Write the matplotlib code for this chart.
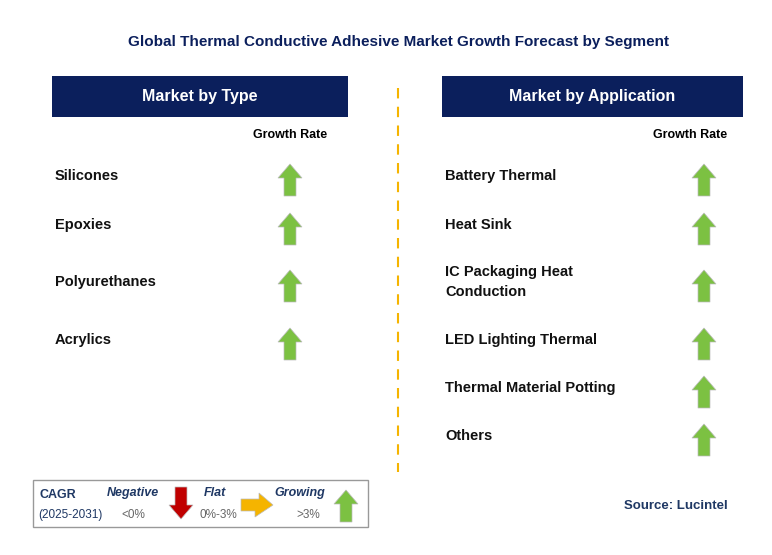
import matplotlib
matplotlib.use('Agg')
import matplotlib.pyplot as plt
from matplotlib.patches import Rectangle, Polygon

plt.rcParams['font.family'] = 'Liberation Sans'

title = "Global Thermal Conductive Adhesive Market Growth Forecast by Segment"
type_labels = ["Silicones", "Epoxies", "Polyurethanes", "Acrylics"]
type_y = [176, 225, 282, 340]
type_trend = ["up", "up", "up", "up"]
app_labels = ["Battery Thermal", "Heat Sink", "IC Packaging Heat\nConduction",
              "LED Lighting Thermal", "Thermal Material Potting", "Others"]
app_y = [176, 225, 282, 340, 388, 436]
app_trend = ["up", "up", "up", "up", "up", "up"]

NAVY = '#0b1f5c'
GREEN = '#7cc142'
RED = '#c00000'
ORANGE = '#f5b400'

fig = plt.figure(figsize=(7.72, 5.55), dpi=100)
ax = fig.add_axes([0, 0, 1, 1])
ax.set_xlim(0, 772)
ax.set_ylim(555, 0)
ax.axis('off')


def arrow(cx, cy, direction, color, size=1.0):
    hw, sw, h = 12 * size, 6 * size, 16 * size
    if direction == "up":
        pts = [(cx, cy - h), (cx + hw, cy - 2 * size), (cx + sw, cy - 2 * size), (cx + sw, cy + h),
               (cx - sw, cy + h), (cx - sw, cy - 2 * size), (cx - hw, cy - 2 * size)]
    elif direction == "down":
        pts = [(cx, cy + h), (cx + hw, cy + 2 * size), (cx + sw, cy + 2 * size), (cx + sw, cy - h),
               (cx - sw, cy - h), (cx - sw, cy + 2 * size), (cx - hw, cy + 2 * size)]
    else:
        pts = [(cx + h, cy), (cx + 2 * size, cy - hw), (cx + 2 * size, cy - sw), (cx - h, cy - sw),
               (cx - h, cy + sw), (cx - 2 * size, cy + sw), (cx - 2 * size, cy + hw)]
    ax.add_patch(Polygon(pts, closed=True, facecolor=color, edgecolor='#bbbbbb', lw=0.5))


ax.text(398, 42, title, ha='center', va='center', fontsize=11, fontweight='bold', color=NAVY)

for x0, x1, label in [(52, 348, "Market by Type"), (442, 743, "Market by Application")]:
    ax.add_patch(Rectangle((x0, 76), x1 - x0, 41, facecolor=NAVY, edgecolor='none'))
    ax.text((x0 + x1) / 2, 97, label, ha='center', va='center', fontsize=11.5, fontweight='bold', color='white')

ax.text(290, 135, "Growth Rate", ha='center', va='center', fontsize=9, fontweight='bold')
ax.text(690, 135, "Growth Rate", ha='center', va='center', fontsize=9, fontweight='bold')

for lab, y, t in zip(type_labels, type_y, type_trend):
    ax.text(55, y, lab, ha='left', va='center', fontsize=10.5, fontweight='bold', color='#111111')
    arrow(290, y + 4, t, GREEN)
for lab, y, t in zip(app_labels, app_y, app_trend):
    ax.text(445, y, lab, ha='left', va='center', fontsize=10.5, fontweight='bold', color='#111111',
            linespacing=1.5)
    arrow(704, y + 4, t, GREEN)

ax.plot([398, 398], [88, 472], color=ORANGE, lw=1.5, ls=(0, (5, 4)))

# legend box
ax.add_patch(Rectangle((33, 480), 335, 47, facecolor='white', edgecolor='#999999', lw=1))
ax.text(40, 495, "CAGR", fontsize=9, fontweight='bold', color='#1f3864', va='center')
ax.text(38, 515, "(2025-2031)", fontsize=8.5, color='#1f3864', va='center')
ax.text(133, 493, "Negative", fontsize=9, fontweight='bold', style='italic', color='#1f3864', ha='center', va='center')
ax.text(133, 515, "<0%", fontsize=8.5, color='#666666', ha='center', va='center')
arrow(181, 503, "down", RED)
ax.text(215, 493, "Flat", fontsize=9, fontweight='bold', style='italic', color='#1f3864', ha='center', va='center')
ax.text(218, 515, "0%-3%", fontsize=8.5, color='#666666', ha='center', va='center')
arrow(257, 505, "right", ORANGE)
ax.text(300, 493, "Growing", fontsize=9, fontweight='bold', style='italic', color='#1f3864', ha='center', va='center')
ax.text(308, 515, ">3%", fontsize=8.5, color='#666666', ha='center', va='center')
arrow(346, 506, "up", GREEN)

ax.text(728, 506, "Source: Lucintel", ha='right', va='center', fontsize=9.5, fontweight='bold', color='#1f3864')

fig.savefig('out.png', dpi=100, facecolor='white')
